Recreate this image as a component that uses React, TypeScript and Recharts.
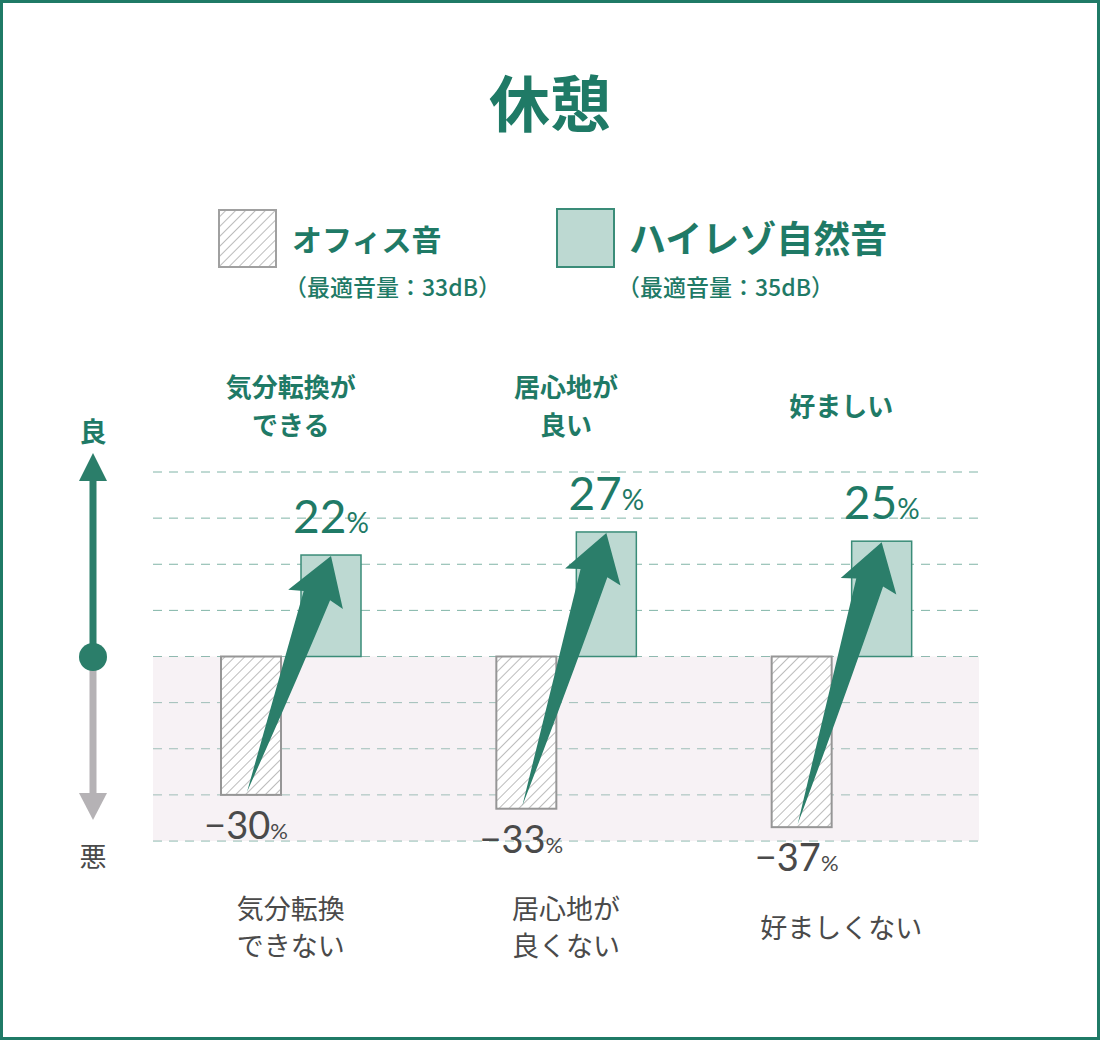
import { BarChart, Bar, XAxis, YAxis, CartesianGrid, ReferenceArea } from 'recharts'

const TITLE = '休憩'
const TOP_LABELS = ['気分転換が\nできる', '居心地が\n良い', '好ましい']
const BOTTOM_LABELS = ['気分転換\nできない', '居心地が\n良くない', '好ましくない']
const OFFICE = [-30, -33, -37]
const NATURE = [22, 27, 25]
const SERIES_NAMES = ['オフィス音', 'ハイレゾ自然音']
const SERIES_NOTES = ['（最適音量：33dB）', '（最適音量：35dB）']
const Y_TICKS = [-40, -30, -20, -10, 0, 10, 20, 30, 40]
const SCALE_LABELS = ['良', '悪']

const data = TOP_LABELS.map((top, i) => ({
  top,
  bottom: BOTTOM_LABELS[i],
  office: OFFICE[i],
  nature: NATURE[i],
}))

const TEAL = '#1f7a66'
const ARROW = '#2b7e6a'
const NATURE_FILL = '#bdd9d2'
const GREY_TEXT = '#4a4a4a'
const JP = '"Noto Sans CJK JP", "Noto Sans", sans-serif'
const NUM = 'Lato, "Noto Sans", sans-serif'
const BAR_SIZE = 60
const BAR_GAP = 20

function MultiLineTick(props: any) {
  const { x, y, payload, dy, lineH, fill, weight, size } = props
  const lines = String(payload.value).split('\n')
  const start = y + dy - ((lines.length - 1) * lineH) / 2
  return (
    <g>
      {lines.map((l: string, i: number) => (
        <text
          key={i}
          x={x}
          y={start + i * lineH}
          textAnchor="middle"
          dominantBaseline="central"
          fill={fill}
          fontSize={size}
          fontWeight={weight}
          fontFamily={JP}
        >
          {l}
        </text>
      ))}
    </g>
  )
}

function OfficeShape(props: any) {
  const { x, y, width, height, payload } = props
  const top = Math.min(y, y + height)
  const h = Math.abs(height)
  return (
    <g>
      <rect x={x} y={top} width={width} height={h} fill="#fff" />
      <rect x={x} y={top} width={width} height={h} fill="url(#hatch)" stroke="#969696" strokeWidth={2} />
      <text x={x + width / 2 - 5} y={top + h + 44} textAnchor="middle" fill={GREY_TEXT} fontFamily={NUM}>
        <tspan fontSize={38}>{'−' + Math.abs(payload.office)}</tspan>
        <tspan fontSize={22}>%</tspan>
      </text>
    </g>
  )
}

function arrowPath(tx: number, ty: number, px: number, py: number) {
  const dx = px - tx
  const dy = py - ty
  const L = Math.hypot(dx, dy)
  const ux = dx / L
  const uy = dy / L
  const nx = -uy
  const ny = ux
  const pt = (back: number, side: number) => [px - back * ux + side * nx, py - back * uy + side * ny]
  const lb = pt(46, -29)
  const ln = pt(42, -14)
  const rn = pt(42, 14)
  const rb = pt(46, 29)
  const mid = pt(L * 0.55, 9)
  return `M${px},${py} L${lb[0]},${lb[1]} L${ln[0]},${ln[1]} L${tx},${ty} Q${mid[0]},${mid[1]} ${rn[0]},${rn[1]} L${rb[0]},${rb[1]} Z`
}

function NatureShape(props: any) {
  const { x, y, width, height, payload } = props
  const top = Math.min(y, y + height)
  const h = Math.abs(height)
  const zeroY = top + h
  const ppu = h / payload.nature
  const officeBottom = zeroY + Math.abs(payload.office) * ppu
  const officeCenter = x + width / 2 - (width + BAR_GAP)
  const cx = x + width / 2
  return (
    <g>
      <rect x={x} y={top} width={width} height={h} fill={NATURE_FILL} stroke="#3a8c78" strokeWidth={1.5} />
      <text x={cx} y={top - 22} textAnchor="middle" fill={TEAL} fontFamily={NUM}>
        <tspan fontSize={46}>{payload.nature}</tspan>
        <tspan fontSize={28}>%</tspan>
      </text>
      <path d={arrowPath(officeCenter - 4, officeBottom - 3, cx, top + 1)} fill={ARROW} />
    </g>
  )
}

export default function App() {
  return (
    <div
      style={{
        position: 'absolute',
        left: 0,
        top: 0,
        width: 1100,
        height: 1040,
        boxSizing: 'border-box',
        border: `3px solid ${TEAL}`,
        background: '#fff',
        fontFamily: JP,
      }}
    >
      <svg width={0} height={0} style={{ position: 'absolute' }}>
        <defs>
          <pattern id="hatch" patternUnits="userSpaceOnUse" width={7} height={7} patternTransform="rotate(45)">
            <line x1={0} y1={0} x2={0} y2={7} stroke="#8e8e8e" strokeWidth={1.2} />
          </pattern>
        </defs>
      </svg>

      <div style={{ position: 'absolute', left: -3, top: -3, width: 1100, height: 1040 }}>
        <BarChart
          width={1100}
          height={1040}
          data={data}
          margin={{ top: 352, right: 121, bottom: 59, left: 153 }}
          barSize={BAR_SIZE}
          barGap={BAR_GAP}
        >
          <ReferenceArea xAxisId="bottom" y1={-40} y2={0} fill="#e6d5dd" fillOpacity={0.3} stroke="none" />
          <CartesianGrid vertical={false} stroke="#80b4a7" strokeDasharray="9 7" />
          <XAxis
            xAxisId="top"
            orientation="top"
            dataKey="top"
            height={120}
            axisLine={false}
            tickLine={false}
            tickSize={0}
            tickMargin={0}
            interval={0}
            tick={(p: any) => <MultiLineTick {...p} dy={-68} lineH={38} fill={TEAL} weight={700} size={26} />}
          />
          <XAxis
            xAxisId="bottom"
            orientation="bottom"
            dataKey="bottom"
            height={140}
            axisLine={false}
            tickLine={false}
            tickSize={0}
            tickMargin={0}
            interval={0}
            tick={(p: any) => <MultiLineTick {...p} dy={85} lineH={37} fill={GREY_TEXT} weight={400} size={27} />}
          />
          <YAxis hide type="number" domain={[-40, 40]} ticks={Y_TICKS} />
          <Bar xAxisId="bottom" dataKey="office" shape={OfficeShape} isAnimationActive={false} />
          <Bar xAxisId="bottom" dataKey="nature" shape={NatureShape} isAnimationActive={false} />
        </BarChart>
      </div>

      <svg width={1100} height={1040} style={{ position: 'absolute', left: -3, top: -3, pointerEvents: 'none' }}>
        <text x={550} y={100} textAnchor="middle" dominantBaseline="central" fill={TEAL} fontSize={61} fontWeight={700} fontFamily={JP}>
          {TITLE}
        </text>

        <rect x={219} y={210} width={57} height={57} fill="#fff" />
        <rect x={219} y={210} width={57} height={57} fill="url(#hatch)" stroke="#a0a0a0" strokeWidth={2} />
        <text x={292} y={238} dominantBaseline="central" fill={TEAL} fontSize={30} fontWeight={700} fontFamily={JP}>
          {SERIES_NAMES[0]}
        </text>
        <text x={284} y={286} dominantBaseline="central" fill={TEAL} fontSize={23} fontWeight={500} fontFamily={JP}>
          {SERIES_NOTES[0]}
        </text>

        <rect x={557} y={209} width={57} height={58} fill={NATURE_FILL} stroke="#3a8c78" strokeWidth={2} />
        <text x={629} y={237} dominantBaseline="central" fill={TEAL} fontSize={37} fontWeight={700} fontFamily={JP}>
          {SERIES_NAMES[1]}
        </text>
        <text x={617} y={286} dominantBaseline="central" fill={TEAL} fontSize={23} fontWeight={500} fontFamily={JP}>
          {SERIES_NOTES[1]}
        </text>

        <text x={93} y={430} textAnchor="middle" dominantBaseline="central" fill={TEAL} fontSize={27} fontWeight={700} fontFamily={JP}>
          {SCALE_LABELS[0]}
        </text>
        <line x1={93} x2={93} y1={478} y2={657} stroke={ARROW} strokeWidth={7} />
        <polygon points="93,453 79,481 107,481" fill={ARROW} />
        <line x1={93} x2={93} y1={657} y2={796} stroke="#b5b2b5" strokeWidth={7} />
        <polygon points="93,820 79,793 107,793" fill="#b5b2b5" />
        <circle cx={93} cy={657} r={14} fill={ARROW} />
        <text x={93} y={855} textAnchor="middle" dominantBaseline="central" fill={GREY_TEXT} fontSize={27} fontWeight={400} fontFamily={JP}>
          {SCALE_LABELS[1]}
        </text>
      </svg>
    </div>
  )
}
